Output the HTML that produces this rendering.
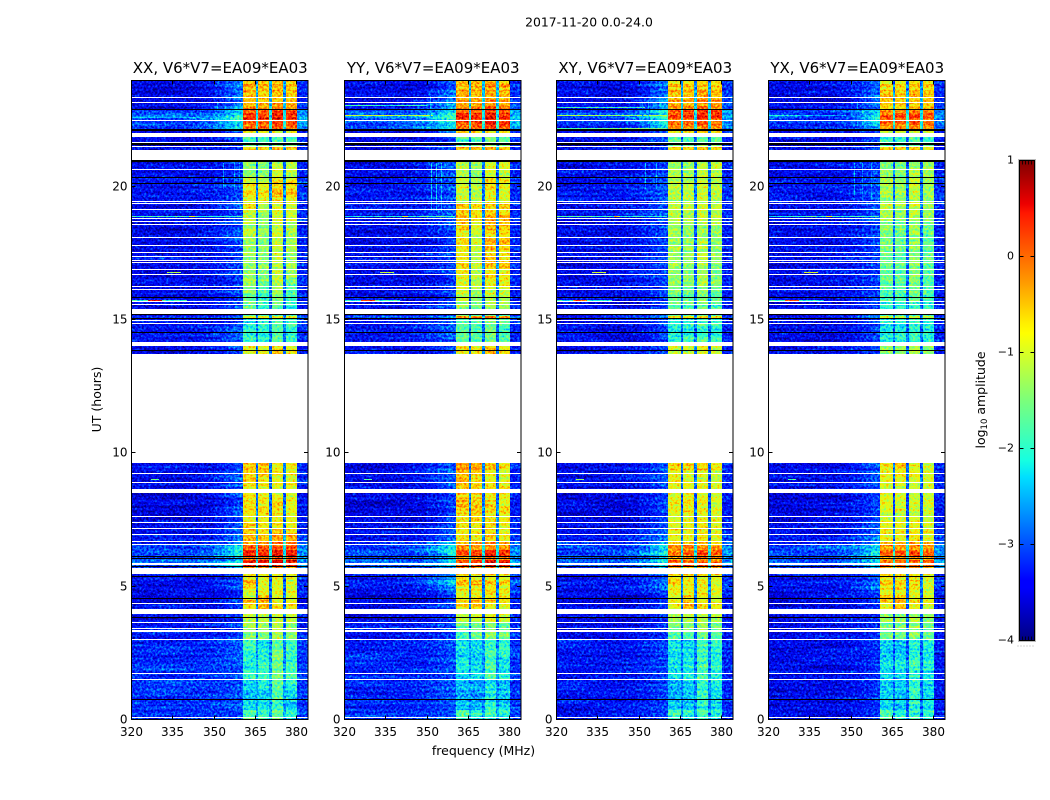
<!DOCTYPE html>
<html lang="en">
<head>
<meta charset="utf-8">
<title>2017-11-20 0.0-24.0</title>
<style>
html,body{margin:0;padding:0;background:#fff;}
#figure{display:block;width:1050px;height:800px;}
text{font-family:"DejaVu Sans","Liberation Sans",sans-serif;fill:#000;}
</style>
</head>
<body>
<svg id="figure" xmlns="http://www.w3.org/2000/svg" width="1050" height="800" viewBox="0 0 1050 800">
<defs>
<filter id="jetNoise" x="0" y="0" width="1" height="1" color-interpolation-filters="sRGB">
<feTurbulence type="fractalNoise" baseFrequency="0.45" numOctaves="2" seed="7" result="grain"/>
<feColorMatrix in="grain" type="matrix" values="1 0 0 0 0 1 0 0 0 0 1 0 0 0 0 0 0 0 0 1" result="grey"/>
<feComposite in="SourceGraphic" in2="grey" operator="arithmetic" k1="0" k2="1" k3="0.42" k4="-0.245" result="mixed"/>
<feTurbulence type="fractalNoise" baseFrequency="0.015 0.38" numOctaves="1" seed="23" result="rowGrain"/>
<feColorMatrix in="rowGrain" type="matrix" values="0 1 0 0 0 0 1 0 0 0 0 1 0 0 0 0 0 0 0 1" result="rowGrey"/>
<feComposite in="mixed" in2="rowGrey" operator="arithmetic" k1="0" k2="1" k3="0.2" k4="-0.1" result="mixed2"/>
<feComponentTransfer in="mixed2">
<feFuncR type="table" tableValues="0 0 0 0 0 0 0 0 .16 .32 .48 .65 .81 .97 1 1 1 1 1 .77 .5"/>
<feFuncG type="table" tableValues="0 0 0 .1 .3 .5 .7 .9 1 1 1 1 1 .96 .78 .59 .41 .22 .04 0 0"/>
<feFuncB type="table" tableValues=".5 .73 .95 1 1 1 1 .97 .81 .65 .48 .32 .16 0 0 0 0 0 0 0 0"/>
</feComponentTransfer>
</filter>
<linearGradient id="jetGradient" x1="0" y1="1" x2="0" y2="0">
<stop offset="0" stop-color="#000080"/><stop offset=".11" stop-color="#0000ff"/><stop offset=".125" stop-color="#0000ff"/>
<stop offset=".34" stop-color="#00dfff"/><stop offset=".375" stop-color="#16ffe1"/><stop offset=".5" stop-color="#7bff7b"/>
<stop offset=".64" stop-color="#ffff00"/><stop offset=".66" stop-color="#fff000"/><stop offset=".75" stop-color="#ff9700"/>
<stop offset=".89" stop-color="#ff1800"/><stop offset=".91" stop-color="#ed0000"/><stop offset="1" stop-color="#800000"/>
</linearGradient>
</defs>
<text x="589" y="26.5" font-size="12.4" text-anchor="middle">2017-11-20 0.0-24.0</text>
<text x="483.5" y="755" font-size="12.5" text-anchor="middle">frequency (MHz)</text>
<text transform="translate(101,399.5) rotate(-90)" font-size="12.5" text-anchor="middle">UT (hours)</text>
<text transform="translate(985,400) rotate(-90)" font-size="12.5" text-anchor="middle">log<tspan font-size="8.5" dy="2">10</tspan><tspan dy="-2"> amplitude</tspan></text>
<g id="panels"></g>
<g id="colorbar"></g>
</svg>
<script>
// Chart values (log10 amplitude in tenths; UT in hours; frequency in MHz)
const panelTitles = ["XX, V6*V7=EA09*EA03","YY, V6*V7=EA09*EA03","XY, V6*V7=EA09*EA03","YX, V6*V7=EA09*EA03"];
const frequencyTicks = [320,335,350,365,380];
const utTicks = [0,5,10,15,20];
const colorbarTicks = [1,0,-1,-2,-3,-4];
const frequencyBandEdges = [320,345,350,354,357,360.5,365,366,370,371,375,376,380,384];
const utRowTops = [24,23.85,23.74,23.63,23.51,23.4,23.25,23.14,23.03,22.91,22.76,22.65,22.54,22.43,22.31,
22.16,22.01,21.86,21.64,21.49,21.38,
20.93,20.66,20.36,20.14,19.88,19.61,19.39,19.16,18.94,18.68,18.38,18.08,17.78,17.48,17.18,16.88,16.58,16.28,15.98,15.68,15.41,
15.15,15.04,14.63,14.18,14.03,13.74,
9.64,9.38,9.11,8.85,8.66,8.51,8.25,7.99,7.73,7.46,7.2,6.94,6.71,6.56,6.38,6.15,6,5.78,5.7,
5.44,5.25,5.06,4.88,4.69,4.5,4.31,4.16,3.98,
3.68,3.34,3,2.63,2.25,1.88,1.5,1.13,.75,.38,0];

// each row: background, shoulder, block 1, block 2, block 3, block 4
const xxRows = [
[-33,-27,-4,-3,-3,-4],[-33,-27,-2,-3,-2,-2],[-34,-28,-5,-4,-4,-5],[-33,-27,-2,-3,-1,-2],[-33,-27,-4,-4,-3,-4],
[-34,-26,-3,-4,-3,-3],[-34,-27,-2,-3,-2,-2],[-33,-25,-3,-2,-1,-2],[-33,-25,-1,-1,0,-1],[-29,-21,2,2,4,3],
[-28,-19,5,4,7,6],[-27,-18,5,5,7,6],[-28,-20,3,2,4,3],[-28,-21,3,3,4,3],[-29,-22,1,2,3,1],
[-33,-28,-6,-6,-6,-6],[-33,-29,-7,-8,-7,-8],[-33,-29,-17,-17,-16,-17],[-34,-30,-15,-15,-14,-15],[-33,-29,-4,-4,-3,-4],[-33,-29,-12,-12,-9,-9],
[-33,-29,-12,-13,-9,-10],[-33,-29,-12,-12,-8,-10],[-32,-28,-8,-10,-6,-7],[-32,-28,-6,-7,-4,-5],[-32,-28,-4,-5,-3,-4],
[-32,-28,-8,-7,-5,-7],[-33,-28,-6,-10,-7,-7],[-32,-28,-8,-11,-8,-9],[-33,-28,-9,-12,-8,-9],[-33,-29,-11,-12,-9,-10],
[-33,-29,-10,-12,-8,-11],[-33,-29,-12,-13,-9,-11],[-33,-29,-11,-12,-9,-11],[-33,-29,-12,-13,-9,-12],[-33,-29,-12,-12,-10,-11],
[-33,-29,-12,-13,-9,-12],[-33,-29,-11,-14,-10,-15],[-33,-29,-13,-16,-11,-16],[-33,-29,-14,-17,-13,-17],[-33,-29,-15,-18,-15,-18],[-33,-29,-15,-17,-16,-17],
[-30,-26,-7,-7,-6,-7],[-32,-28,-19,-18,-16,-18],[-32,-28,-18,-18,-15,-17],[-33,-29,-18,-18,-15,-17],[-33,-29,-7,-7,-4,-6],null,
[-33,-28,-3,-3,-6,-6],[-33,-28,-5,-4,-6,-7],[-33,-28,-4,-6,-7,-7],[-33,-28,-6,-6,-7,-6],[-33,-28,-7,-7,-7,-7],[-34,-29,-6,-6,-7,-7],
[-34,-29,-5,-6,-4,-7],[-34,-29,-6,-5,-5,-6],[-34,-29,-7,-6,-6,-7],[-33,-28,-5,-6,-5,-6],[-33,-28,-4,-5,-3,-4],[-32,-26,-2,-3,-1,-2],
[-31,-24,-2,-2,0,0],[-29,-21,2,3,3,4],[-29,-20,5,5,7,7],[-29,-22,2,2,3,2],[-27,-21,5,6,7,7],[-30,-25,-2,-2,-1,-2],[-30,-25,-3,-3,-3,-3],
[-33,-29,-5,-7,-7,-8],[-33,-28,-2,-7,-7,-8],[-33,-28,-6,-8,-7,-8],[-33,-29,-7,-6,-7,-8],[-34,-30,-8,-3,-7,-8],[-34,-30,-4,-3,-6,-5],[-33,-30,-6,-2,-4,-5],[-33,-30,-6,-6,-6,-6],[-33,-30,-9,-9,-9,-10],
[-32,-29,-11,-11,-9,-11],[-32,-29,-13,-13,-11,-13],[-31,-28,-17,-20,-15,-17],[-31,-28,-19,-19,-13,-17],[-30,-28,-19,-17,-14,-17],
[-30,-28,-17,-17,-14,-16],[-30,-28,-21,-19,-15,-18],[-30,-28,-23,-22,-16,-21],[-30,-28,-21,-20,-17,-21],[-30,-28,-15,-17,-15,-19]];
const yyRows = [
[-33,-27,-3,-2,-1,-3],[-33,-27,-1,-2,0,-1],[-34,-28,-4,-3,-2,-4],[-33,-26,-1,-1,0,-1],[-33,-27,-3,-3,-1,-3],
[-34,-26,-2,-2,-1,-2],[-34,-26,-1,-2,0,-1],[-32,-24,-2,-1,0,-1],[-32,-24,0,0,2,0],[-28,-20,2,3,5,3],
[-27,-18,5,5,7,5],[-26,-17,6,6,8,6],[-27,-19,4,4,6,4],[-28,-20,3,3,5,3],[-28,-21,1,2,3,1],
[-33,-28,-5,-5,-5,-5],[-33,-29,-6,-7,-5,-7],[-33,-29,-16,-16,-14,-16],[-34,-30,-14,-14,-13,-14],[-33,-29,-3,-3,-2,-3],[-33,-29,-11,-11,-8,-9],
[-33,-28,-10,-12,-8,-8],[-33,-28,-10,-12,-7,-8],[-32,-28,-9,-11,-6,-7],[-32,-28,-8,-10,-5,-7],[-32,-28,-9,-10,-6,-7],
[-32,-28,-9,-10,-7,-8],[-32,-28,-3,-4,-3,-3],[-32,-28,-4,-5,-3,-4],[-33,-28,-3,-5,-2,-3],[-33,-28,-4,-7,-3,-4],
[-33,-29,-6,-9,-5,-5],[-33,-29,-5,-9,-3,-4],[-33,-29,-6,-9,-4,-5],[-33,-29,-6,-10,-3,-5],[-33,-29,-5,-9,-5,-5],
[-33,-29,-6,-10,-5,-6],[-33,-29,-7,-10,-7,-7],[-33,-29,-8,-11,-8,-8],[-33,-29,-9,-12,-9,-9],[-33,-29,-12,-14,-11,-12],[-33,-29,-13,-15,-12,-14],
[-29,-22,0,1,2,0],[-32,-28,-16,-16,-13,-16],[-32,-28,-15,-15,-12,-15],[-33,-29,-16,-16,-13,-15],[-33,-29,-6,-6,-3,-6],null,
[-33,-28,-1,-2,-4,-6],[-33,-28,-3,-3,-5,-7],[-33,-28,-2,-4,-5,-6],[-33,-28,-4,-5,-6,-6],[-33,-28,-6,-6,-6,-6],[-34,-29,-4,-5,-6,-7],
[-34,-29,-2,-4,-4,-6],[-34,-29,-4,-3,-5,-5],[-34,-29,-6,-5,-6,-7],[-33,-28,-5,-6,-5,-7],[-33,-28,-6,-6,-5,-7],[-32,-26,-5,-6,-4,-6],
[-31,-24,-4,-3,-2,-3],[-29,-21,0,0,1,0],[-29,-20,3,4,6,5],[-29,-22,-1,-1,1,0],[-27,-20,4,4,7,6],[-29,-24,0,0,1,-1],[-29,-24,-2,-2,-1,-2],
[-32,-27,-6,-7,-6,-7],[-31,-22,-3,-2,-2,-3],[-32,-25,-6,-6,-5,-6],[-33,-27,-7,-7,-6,-7],[-34,-29,-7,-6,-7,-7],[-34,-29,-4,-2,-5,-6],[-33,-29,-6,-4,-6,-7],[-33,-29,-5,-4,-4,-6],[-33,-29,-9,-9,-8,-9],
[-32,-29,-15,-14,-13,-15],[-32,-29,-17,-15,-13,-15],[-31,-28,-20,-21,-17,-17],[-31,-28,-21,-22,-17,-19],[-31,-28,-19,-20,-15,-19],
[-31,-28,-21,-21,-17,-20],[-31,-28,-23,-23,-19,-21],[-31,-28,-24,-25,-19,-22],[-31,-28,-22,-23,-18,-21],[-30,-28,-16,-19,-17,-18]];
const xyRows = [
[-33,-26,-5,-4,-3,-5],[-33,-26,-2,-3,-2,-3],[-34,-27,-5,-4,-4,-5],[-33,-26,-2,-3,-1,-2],[-33,-26,-4,-4,-2,-4],
[-33,-25,-3,-3,-2,-3],[-33,-25,-2,-2,0,-1],[-33,-24,-2,-2,0,-1],[-32,-23,-1,0,2,0],[-29,-20,2,2,4,3],
[-29,-19,4,5,6,5],[-28,-18,4,5,7,6],[-29,-19,2,3,5,3],[-30,-20,1,2,4,2],[-31,-21,0,0,1,0],
[-33,-28,-6,-6,-5,-6],[-33,-29,-7,-8,-6,-7],[-33,-29,-15,-16,-14,-15],[-34,-30,-15,-15,-14,-15],[-33,-29,-4,-4,-3,-4],[-33,-29,-12,-12,-10,-11],
[-33,-29,-11,-12,-10,-10],[-33,-29,-10,-11,-9,-10],[-32,-28,-10,-11,-9,-10],[-32,-28,-10,-10,-9,-10],[-32,-28,-9,-9,-8,-9],
[-32,-28,-11,-10,-9,-11],[-33,-28,-9,-10,-8,-9],[-32,-28,-10,-10,-9,-10],[-33,-28,-10,-11,-9,-10],[-33,-29,-11,-11,-10,-11],
[-33,-29,-10,-11,-10,-11],[-33,-29,-12,-12,-10,-12],[-33,-29,-11,-12,-10,-12],[-33,-29,-12,-12,-10,-12],[-33,-29,-11,-12,-10,-12],
[-33,-29,-12,-12,-10,-13],[-33,-29,-12,-13,-11,-13],[-33,-29,-13,-14,-12,-14],[-33,-29,-14,-15,-13,-15],[-33,-29,-15,-16,-14,-16],[-33,-29,-15,-16,-15,-16],
[-31,-26,-5,-5,-4,-5],[-33,-29,-19,-19,-17,-18],[-33,-29,-19,-18,-17,-18],[-33,-29,-19,-19,-17,-18],[-33,-29,-9,-9,-7,-9],null,
[-33,-28,-5,-5,-5,-7],[-33,-28,-6,-7,-6,-8],[-33,-28,-6,-7,-7,-8],[-33,-28,-7,-7,-7,-8],[-33,-28,-8,-8,-8,-8],[-34,-29,-7,-6,-7,-8],
[-34,-29,-6,-5,-6,-8],[-34,-29,-7,-6,-6,-7],[-34,-29,-8,-7,-7,-8],[-33,-28,-7,-7,-6,-8],[-33,-28,-6,-6,-5,-7],[-32,-26,-6,-6,-5,-7],
[-31,-24,-4,-4,-3,-4],[-29,-21,-1,0,-1,-1],[-29,-20,1,2,4,2],[-29,-22,-2,-1,0,-1],[-28,-21,2,3,3,3],[-30,-25,-2,-2,-1,-2],[-30,-25,-3,-3,-3,-3],
[-33,-29,-6,-7,-7,-8],[-32,-26,-4,-6,-6,-8],[-32,-26,-6,-7,-7,-8],[-33,-29,-7,-7,-7,-8],[-34,-30,-8,-5,-7,-8],[-34,-30,-6,-4,-6,-7],[-33,-30,-7,-3,-5,-7],[-33,-30,-6,-6,-6,-7],[-33,-30,-11,-11,-10,-11],
[-33,-30,-14,-14,-12,-14],[-33,-30,-15,-15,-13,-15],[-32,-29,-20,-21,-17,-18],[-32,-29,-21,-21,-17,-19],[-32,-29,-20,-19,-16,-18],
[-32,-29,-21,-20,-17,-19],[-32,-29,-23,-22,-18,-20],[-32,-29,-24,-23,-18,-21],[-32,-29,-22,-22,-18,-21],[-32,-29,-17,-19,-17,-19]];
const yxRows = [
[-33,-27,-6,-5,-4,-5],[-33,-27,-3,-4,-3,-4],[-34,-28,-6,-5,-5,-6],[-33,-27,-3,-4,-2,-3],[-33,-27,-5,-5,-4,-5],
[-34,-27,-4,-5,-4,-4],[-34,-27,-3,-4,-3,-3],[-33,-26,-4,-3,-3,-3],[-33,-26,-3,-3,-2,-3],[-30,-22,-1,0,1,0],
[-29,-21,1,2,3,2],[-29,-20,2,2,4,3],[-30,-21,1,1,2,1],[-30,-22,0,0,2,1],[-31,-23,-1,-1,0,-1],
[-33,-28,-7,-7,-6,-7],[-33,-29,-8,-8,-7,-8],[-33,-29,-18,-18,-15,-17],[-34,-30,-16,-16,-14,-16],[-33,-29,-5,-5,-4,-5],[-33,-29,-13,-13,-11,-11],
[-33,-29,-13,-13,-11,-11],[-33,-29,-12,-13,-10,-11],[-32,-28,-11,-12,-9,-11],[-32,-28,-10,-11,-8,-11],[-32,-28,-10,-11,-9,-11],
[-32,-28,-12,-11,-9,-12],[-33,-28,-9,-11,-9,-11],[-32,-28,-10,-11,-9,-11],[-33,-28,-11,-12,-10,-12],[-33,-29,-13,-14,-12,-14],
[-33,-29,-13,-14,-11,-15],[-33,-29,-14,-15,-12,-15],[-33,-29,-13,-14,-12,-15],[-33,-29,-14,-15,-12,-15],[-33,-29,-14,-14,-12,-15],
[-33,-29,-14,-15,-12,-15],[-33,-29,-15,-15,-13,-16],[-33,-29,-16,-16,-14,-16],[-33,-29,-17,-17,-15,-17],[-33,-29,-18,-18,-17,-18],[-33,-29,-18,-18,-18,-18],
[-31,-27,-9,-9,-8,-9],[-33,-29,-20,-20,-18,-19],[-33,-29,-20,-19,-18,-19],[-33,-29,-20,-20,-18,-19],[-33,-29,-12,-12,-10,-12],null,
[-33,-28,-6,-4,-7,-8],[-33,-28,-7,-6,-7,-8],[-33,-28,-7,-7,-8,-8],[-33,-28,-8,-8,-8,-8],[-33,-28,-8,-8,-8,-8],[-34,-29,-7,-7,-8,-8],
[-34,-29,-6,-7,-7,-8],[-34,-29,-7,-7,-8,-8],[-34,-29,-8,-8,-8,-9],[-33,-28,-7,-7,-7,-8],[-33,-28,-6,-6,-6,-7],[-32,-26,-6,-6,-5,-7],
[-31,-24,-4,-4,-3,-4],[-29,-21,-1,-1,-1,-1],[-29,-20,2,2,3,2],[-29,-22,-2,-1,-1,-1],[-28,-21,1,2,2,2],[-30,-25,-3,-3,-2,-3],[-30,-25,-4,-4,-4,-4],
[-33,-29,-6,-7,-7,-8],[-32,-26,-3,-3,-4,-8],[-32,-26,-6,-6,-6,-8],[-33,-29,-7,-7,-7,-8],[-34,-30,-3,-3,-7,-8],[-34,-30,-6,-4,-6,-7],[-33,-30,-7,-2,-6,-8],[-33,-30,-6,-5,-6,-7],[-33,-30,-11,-11,-10,-12],
[-33,-30,-14,-13,-12,-14],[-33,-30,-15,-15,-13,-15],[-33,-30,-21,-22,-18,-19],[-33,-30,-21,-21,-18,-20],[-33,-30,-21,-20,-17,-19],
[-33,-30,-21,-21,-18,-20],[-33,-30,-22,-22,-18,-21],[-33,-30,-22,-23,-18,-21],[-33,-30,-21,-22,-18,-20],[-33,-30,-16,-19,-18,-18]];
const panelRows = [xxRows,yyRows,xyRows,yxRows];

// narrow interference features: panel index (-1 = every panel), UT, frequency range, level
const lineRfiPanel = [-1,-1,-1,-1,-1,-1,0,1,1,2,2,2,3];
const lineRfiUt = [18.9,18.9,15.75,15.75,16.8,9.05,22.6,22.68,23.05,22.68,22.2,23.0,22.7];
const lineRfiLow = [320,341,320,326,333,327,320,320,320,320,320,320,320];
const lineRfiHigh = [360,343,340,331,338,330,345,352,350,360,360,352,348];
const lineRfiLevel = [-18,-5,-19,3,-8,-14,-22,-10,-17,-11,-15,-17,-22];
const columnRfiPanel = [0,0,0,1,1,1,2,2,3,3,3,0,1,2,2,3];
const columnRfiFreq = [353,357,359,351.5,353,355,352,356,351,354,357,351,351,351,353,352];
const columnRfiTop = [20.9,20.9,20.9,20.9,20.9,20.9,20.9,20.9,20.9,20.9,20.9,23.2,23.4,23.2,23.2,23.2];
const columnRfiBottom = [19.9,19.9,19.9,19.1,19.1,19.1,19.9,19.9,19.6,19.6,19.6,22.2,22.3,22.2,22.2,22.2];
const columnRfiLevel = [-24,-24,-25,-23,-22,-23,-24,-24,-25,-25,-25,-25,-24,-25,-24,-25];

// flagged time ranges shared by all panels
const blankedUtTop = [23.38,23.18,22.5,22,21.69,21.53,21.38,20.68,19.48,19.39,19.18,18.83,18.71,18.6,18.11,17.81,17.54,17.4,17.25,17.16,16.91,16.73,16.28,16.16,15.71,15.6,15.41,15,14.89,14.19,13.74,9.26,8.93,8.66,7.65,7.43,7.2,6.98,6.71,6.6,5.87,5.7,4.39,4.15,3.68,3.45,3.38,3.04,1.76,1.54,.11];
const blankedUtBottom = [23.34,23.14,22.45,21.86,21.66,21.49,21,20.64,19.44,19.35,19.14,18.79,18.68,18.56,18.08,17.78,17.5,17.36,17.21,17.12,16.88,16.69,16.24,16.13,15.68,15.56,15.22,14.96,14.85,14.04,9.64,9.23,8.89,8.52,7.61,7.39,7.16,6.94,6.68,6.56,5.83,5.46,4.35,3.98,3.64,3.41,3.3,3,1.73,1.5,.08];
const zeroedUtTop = [22.91,22.16,21.63,21,20.38,20.14,15.86,15.21,15.06,14.55,13.89,6.15,6.09,5.78,5.4,4.58,3.86,.79];
const zeroedUtBottom = [22.88,22.09,21.58,20.93,20.33,20.1,15.83,15.17,15.02,14.51,13.86,6.12,6.06,5.74,5.36,4.54,3.83,.75];

const NS = "http://www.w3.org/2000/svg";
const panelLefts = [131.5,344.5,556.5,768.5];
const panelWidth = 176.5, panelTop = 80.5, panelBottom = 719.5, plotBottomPx = 720, pxPerHour = 26.667, pxPerMHz = 176.5/64;
const panelsRoot = document.getElementById("panels");
const colorbarRoot = document.getElementById("colorbar");

function make(tag, attrs, parent){
  const el = document.createElementNS(NS, tag);
  for (const k in attrs) el.setAttribute(k, attrs[k]);
  parent.appendChild(el);
  return el;
}
function xScale(panel, mhz){ return panelLefts[panel] + (mhz - 320) * pxPerMHz; }
function yScale(ut){ return plotBottomPx - ut * pxPerHour; }
function greyForLevel(tenths){
  const t = Math.max(0, Math.min(1, (tenths / 10 + 4) / 5));
  const c = Math.round(t * 255);
  return "rgb(" + c + "," + c + "," + c + ")";
}
function bandLevels(row){
  const bg = row[0], sh = row[1];
  const gap = Math.min(-20, Math.max(bg + 6, Math.min(row[2], row[3], row[4], row[5]) - 20));
  return [bg, bg*.85+sh*.15, bg*.6+sh*.4, bg*.3+sh*.7, sh, row[2], gap, row[3], gap, row[4], gap, row[5], (bg+sh)/2];
}
function cell(group, panel, f0, f1, u0, u1, level){
  const x0 = Math.round(xScale(panel, f0)), x1 = Math.round(xScale(panel, f1));
  const y0 = Math.round(yScale(u0)), y1 = Math.round(yScale(u1));
  const r = make("rect", {x:x0, y:y0, width:Math.max(1, x1-x0), height:Math.max(1, y1-y0), fill:greyForLevel(level), "shape-rendering":"crispEdges"}, group);
  
  
  return r;
}
function band(group, panel, u0, u1, colour, name){
  const y0 = Math.round(yScale(u0)), y1 = Math.round(yScale(u1));
  const r = make("rect", {x:panelLefts[panel], y:y0, width:panelWidth, height:Math.max(1, y1-y0), fill:colour, "shape-rendering":"crispEdges"}, group);
  
  
}

panelTitles.forEach(function(title, p){
  const g = make("g", {}, panelsRoot);
  
  

  const heat = make("g", {filter:"url(#jetNoise)"}, g);
  
  
  panelRows[p].forEach(function(row, i){
    if (!row) return;
    const levels = bandLevels(row);
    levels.forEach(function(level, b){
      cell(heat, p, frequencyBandEdges[b], frequencyBandEdges[b+1], utRowTops[i], utRowTops[i+1], level);
    });
  });
  lineRfiUt.forEach(function(u, i){
    if (lineRfiPanel[i] !== -1 && lineRfiPanel[i] !== p) return;
    cell(heat, p, lineRfiLow[i], lineRfiHigh[i], u, u - 0.04, lineRfiLevel[i]);
  });
  columnRfiFreq.forEach(function(f, i){
    if (columnRfiPanel[i] !== p) return;
    cell(heat, p, f, f + 0.4, columnRfiTop[i], columnRfiBottom[i], columnRfiLevel[i]);
  });

  blankedUtTop.forEach(function(u, i){ band(g, p, u, blankedUtBottom[i], "#fff", "blanked-time-range"); });
  zeroedUtTop.forEach(function(u, i){ band(g, p, u, zeroedUtBottom[i], "#000", "zero-amplitude-row"); });

  const left = panelLefts[p], right = left + panelWidth;
  const frame = make("rect", {x:left, y:panelTop, width:panelWidth, height:panelBottom-panelTop, fill:"none", stroke:"#000", "stroke-width":1}, g);
  
  

  frequencyTicks.forEach(function(f){
    const x = Math.round(xScale(p, f) - 0.5) + 0.5;
    const t1 = make("line", {x1:x, x2:x, y1:panelBottom, y2:panelBottom-4, stroke:"#000"}, g);
    
    
    const t2 = make("line", {x1:x, x2:x, y1:panelTop, y2:panelTop+4, stroke:"#000"}, g);
    
    
    const lab = make("text", {x:x, y:736, "font-size":12, "text-anchor":"middle"}, g);
    
    
    lab.textContent = String(f);
  });
  utTicks.forEach(function(u){
    const y = Math.round(yScale(u)) - 0.5;
    const t1 = make("line", {x1:left, x2:left+4, y1:y, y2:y, stroke:"#000"}, g);
    
    
    const t2 = make("line", {x1:right, x2:right-4, y1:y, y2:y, stroke:"#000"}, g);
    
    
    const lab = make("text", {x:left-4, y:y+4, "font-size":12, "text-anchor":"end"}, g);
    
    
    lab.textContent = String(u);
  });

  const ttl = make("text", {x:left+panelWidth/2+0.5, y:73, "font-size":15, "text-anchor":"middle"}, g);
  
  
  ttl.textContent = title;
});

// colorbar
const cbLeft = 1019.5, cbWidth = 15, cbTop = 160.5, cbBottom = 640.5;
function cbY(v){ return cbBottom - (v + 4) / 5 * (cbBottom - cbTop); }
const cbHalo = make("rect", {x:cbLeft-1, y:cbTop-1, width:cbWidth+2, height:cbBottom-cbTop+2, fill:"none", stroke:"#bbb"}, colorbarRoot);


const cbRamp = make("rect", {x:cbLeft, y:cbTop, width:cbWidth, height:cbBottom-cbTop, fill:"url(#jetGradient)", stroke:"#000"}, colorbarRoot);


colorbarTicks.forEach(function(v){
  const y = Math.round(cbY(v)) - 0.5;
  const a = make("line", {x1:cbLeft, x2:cbLeft+4, y1:y, y2:y, stroke:"#000"}, colorbarRoot);
  
  
  const b = make("line", {x1:cbLeft+cbWidth, x2:cbLeft+cbWidth-4, y1:y, y2:y, stroke:"#000"}, colorbarRoot);
  
  
  const lab = make("text", {x:1014, y:y+3, "font-size":11, "text-anchor":"end"}, colorbarRoot);
  
  
  lab.textContent = v < 0 ? "\u2212" + Math.abs(v) : String(v);
});
const cbMinorOffsets = [0.25,0.5,0.75,1];
[160.5, 640.5].forEach(function(edgeY, side){
  cbMinorOffsets.forEach(function(f){
    const x = cbLeft + f * (cbWidth - 3);
    const dir = side === 0 ? 1 : -1;
    const m = make("line", {x1:x, x2:x, y1:edgeY, y2:edgeY + dir * 4, stroke:"#000", "stroke-width":0.8}, colorbarRoot);
    
    
  });
});
const cbDots = [1017.5,1020.5,1023.5,1026.5,1029.5,1032.5];
cbDots.forEach(function(x){
  const d = make("rect", {x:x, y:645.5, width:1, height:1, fill:"#aaa"}, colorbarRoot);
  
  
});
</script>
</body>
</html>
